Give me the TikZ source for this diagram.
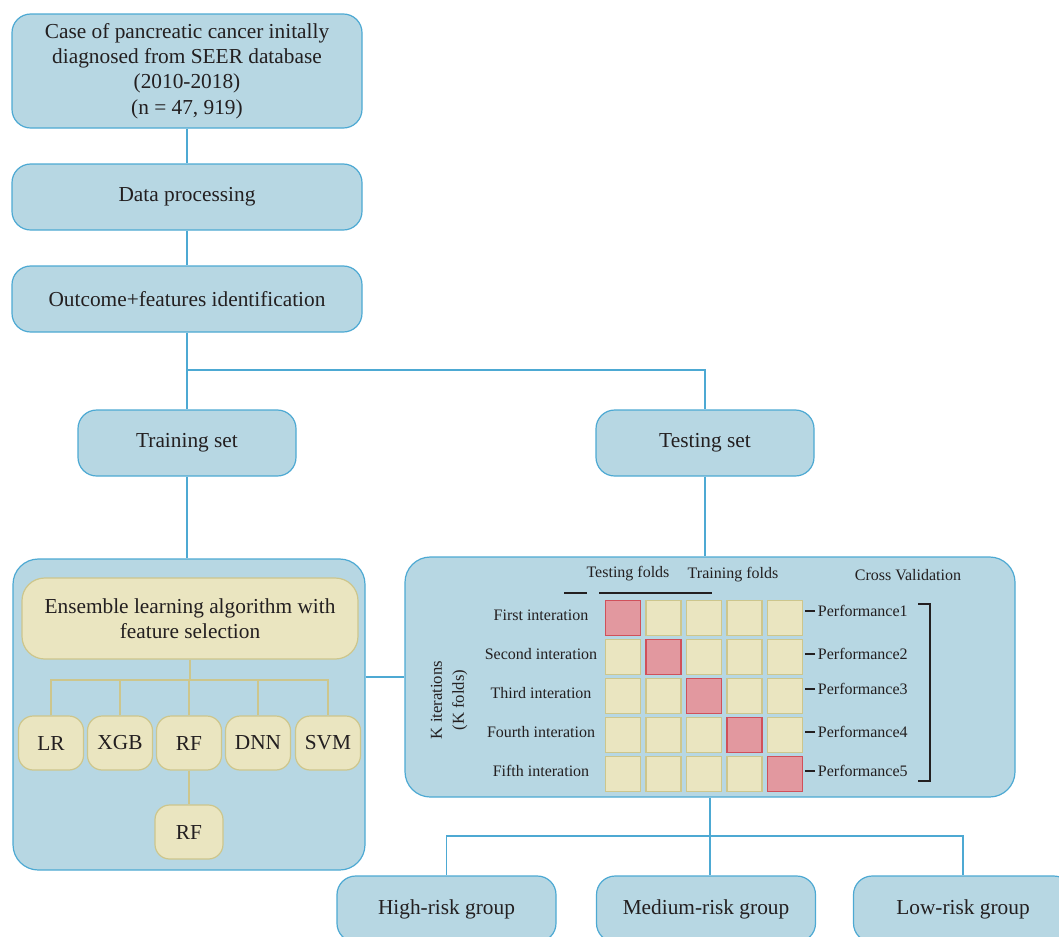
\documentclass[tikz,border=0pt]{standalone}
\usepackage{fontspec}
\setmainfont{Liberation Serif}
\usetikzlibrary{calc}
\definecolor{bfill}{HTML}{B7D7E3}
\definecolor{bline}{HTML}{4DA9D3}
\definecolor{yfill}{HTML}{EAE5C0}
\definecolor{yline}{HTML}{CDC68C}
\definecolor{pfill}{HTML}{E2989F}
\definecolor{pline}{HTML}{D0505A}
\definecolor{ink}{HTML}{231F20}
\tikzset{
  bbox/.style={draw=bline, fill=bfill, line width=0.9pt, rounded corners=14pt,
    align=center, text=ink, inner sep=0pt, font=\fontsize{16}{19}\selectfont},
  ybox/.style={bbox, draw=yline, fill=yfill, rounded corners=11pt},
  cell/.style={draw=yline, fill=yfill, line width=0.8pt, minimum size=26.25pt, inner sep=0pt},
  hot/.style={cell, draw=pline, fill=pfill},
  link/.style={draw=bline, line width=0.9pt},
  ylink/.style={draw=yline, line width=0.9pt},
  small/.style={text=ink, font=\fontsize{12}{14}\selectfont},
}
\begin{document}
\begin{tikzpicture}[x=0.75pt, y=-0.75pt]
\useasboundingbox (0,0) rectangle (1059,936);
% main column
\node[bbox, minimum width=262.5pt, minimum height=85.5pt] (seer) at (187,71)
  {Case of pancreatic cancer initally\\diagnosed from SEER database\\(2010-2018)\\(n = 47, 919)};
\node[bbox, minimum width=262.5pt, minimum height=49.5pt] (proc) at (187,197) {Data processing};
\node[bbox, minimum width=262.5pt, minimum height=49.5pt] (feat) at (187,299) {Outcome+features identification};
\node[bbox, minimum width=163.5pt, minimum height=49.5pt] (train) at (187,443) {Training set};
\node[bbox, minimum width=163.5pt, minimum height=49.5pt] (test) at (705,443) {Testing set};
\coordinate (split) at (0,370);
\draw[link] (seer) -- (proc);
\draw[link] (proc) -- (feat);
\draw[link] (feat.south) -- (train.north);
\draw[link] (feat.south |- split) -| (test.north);
% left panel
\node[bbox, rounded corners=19pt, minimum width=264pt, minimum height=233.25pt] (lp) at (189,714.5) {};
\node[ybox, rounded corners=17pt, minimum width=252pt, minimum height=60.75pt] (ens) at (190,618.5)
  {Ensemble learning algorithm with\\feature selection};
\foreach \m/\x/\t in {lr/51/LR, xgb/120/XGB, rf/189/RF, dnn/258/DNN, svm/328/SVM}
  \node[ybox, minimum width=48.75pt, minimum height=40.5pt] (\m) at (\x,743) {\t};
\node[ybox, minimum width=51pt, minimum height=40.5pt] (rfb) at (189,832) {RF};
\coordinate (fan) at (0,680);
\draw[ylink] (ens.south) -- (ens.south |- fan);
\draw[ylink] (lr.north) -- (lr.north |- fan) -- (svm.north |- fan) -- (svm.north);
\foreach \m in {xgb,rf,dnn}
  \draw[ylink] (\m.north) -- (\m.north |- fan);
\draw[ylink] (rf.south) -- (rf.south |- rfb.north);
\draw[link] (train) -- (train.south |- lp.north);
% cross validation panel
\node[bbox, rounded corners=19pt, minimum width=457.5pt, minimum height=180pt] (cv) at (710,677) {};
\draw[link] (lp.east |- cv.west) -- (cv.west);
\draw[link] (test.south) -- (test.south |- cv.north);
\node[small] (tsf) at (628,574) {Testing folds};
\node[small] (trf) at (733,575) {Training folds};
\node[small] (cvt) at (908,575) {Cross Validation};
\draw[ink, line width=0.8pt] (564,593) -- (587,593);
\draw[ink, line width=0.8pt] (599,593) -- (712,593);
\foreach \r/\w in {1/First, 2/Second, 3/Third, 4/Fourth, 5/Fifth} {
  \node[small] (it\r) at (541,{618+39*(\r-1)-3}) {\w\ interation};
  \foreach \c in {1,...,5} {
    \def\st{cell}\ifnum\r=\c\def\st{hot}\fi
    \node[\st] (c\r\c) at ({623+40.5*(\c-1)},{618+39*(\r-1)}) {};
  }
}
\foreach \r/\y in {1/611, 2/654, 3/689, 4/732, 5/771} {
  \node[small, anchor=west, inner sep=2pt] (perf\r) at (815,\y) {Performance\r};
  \draw[ink, line width=0.8pt] (perf\r.west) -- ++(-7.5pt,0);
}
\draw[ink, line width=0.8pt] (918,604) -| (930,781) -- (918,781);
\node[small, rotate=90, align=center, font=\fontsize{12.5}{16.5}\selectfont] (kit) at (449,700)
  {K iterations\\(K folds)};
% risk groups
\node[bbox, minimum width=164.25pt, minimum height=49.5pt] (high) at (446.5,909) {High-risk group};
\node[bbox, minimum width=164.25pt, minimum height=49.5pt] (med) at (706,909) {Medium-risk group};
\node[bbox, minimum width=164.25pt, minimum height=49.5pt] (low) at (963,909) {Low-risk group};
\coordinate (split2) at (0,836);
\draw[link] (cv.south) -- (cv.south |- med.north);
\draw[link] (high.north) -- (high.north |- split2) -- (low.north |- split2) -- (low.north);
\end{tikzpicture}
\end{document}
